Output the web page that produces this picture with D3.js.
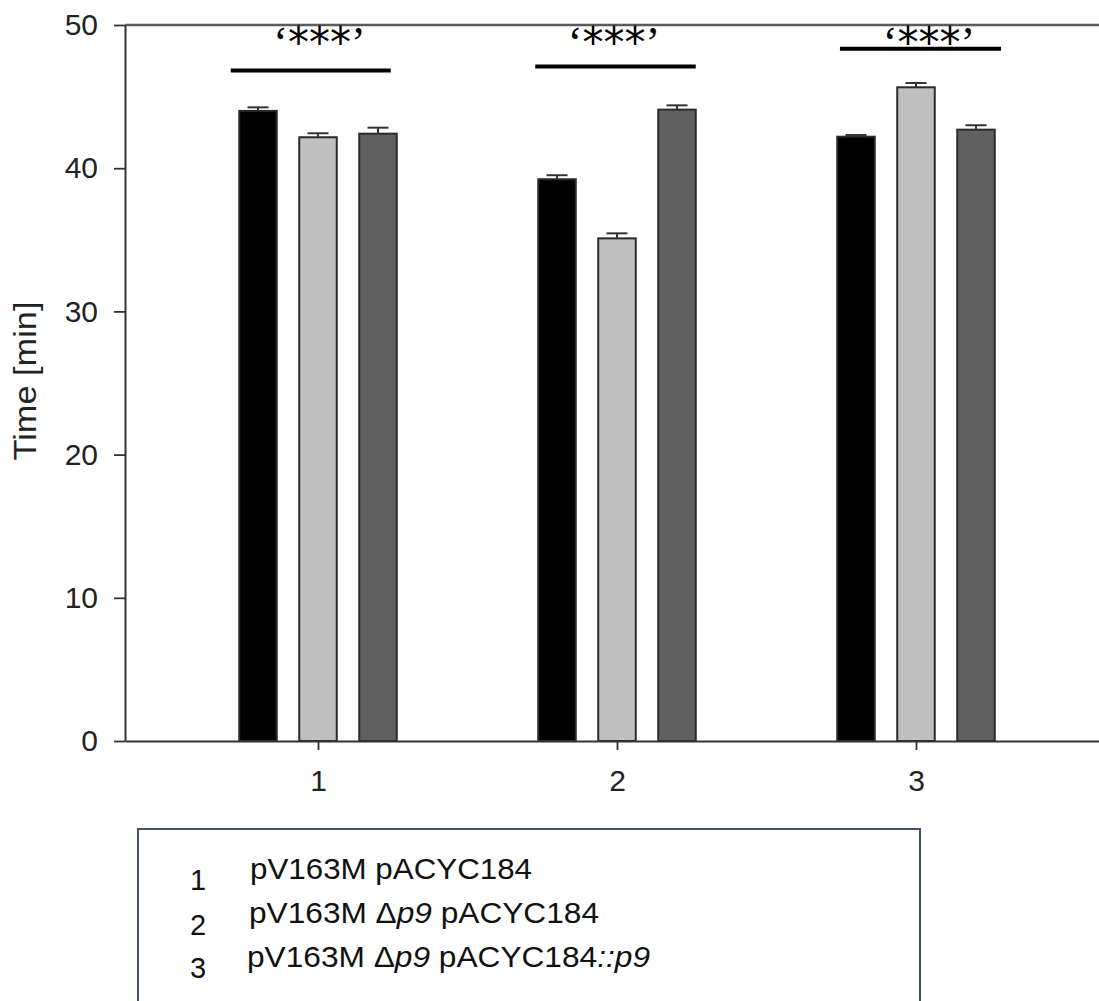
<!DOCTYPE html>
<html>
<head>
<meta charset="utf-8">
<script src="https://cdn.jsdelivr.net/npm/d3@7"></script>
<style>
  body { margin: 0; background: #fff; }
  text { font-family: "Liberation Sans", Arial, sans-serif; }
</style>
</head>
<body>
<svg width="1099" height="1001"></svg>
<script>
// groups on the x axis, three bars in each
const groups = ["1", "2", "3"];
const seriesNames = ["black", "light", "dark"];
const seriesFill = ["#000000", "#c0c0c0", "#606060"];

// mean times [min] per group, one array per bar colour
const blackMeans = [44.0, 39.23, 42.2];
const lightMeans = [42.16, 35.1, 45.65];
const darkMeans = [42.41, 44.09, 42.69];
// upper error (SEM)
const blackErr = [0.25, 0.28, 0.12];
const lightErr = [0.28, 0.35, 0.3];
const darkErr = [0.42, 0.3, 0.31];

const yTicks = [0, 10, 20, 30, 40, 50];
const yTitle = "Time [min]";

// significance bars
const sigParts = ["‘", "***", "’"];
const sigLevels = [46.82, 47.1, 48.34];
const sigTextLevel = 47.8;

// legend
const legendNums = ["1", "2", "3"];
const legendLabels = [
  [["pV163M pACYC184", false]],
  [["pV163M Δ", false], ["p9", true], [" pACYC184", false]],
  [["pV163M Δ", false], ["p9", true], [" pACYC184", false], ["::p9", true]]
];

const means = [blackMeans, lightMeans, darkMeans];
const errs = [blackErr, lightErr, darkErr];
const rows = [];
groups.forEach((g, i) => {
  seriesNames.forEach((s, j) => {
    rows.push({ group: g, series: s, fill: seriesFill[j], mean: means[j][i], err: errs[j][i] });
  });
});

var svg = d3.select("svg");

var x = d3.scalePoint().domain(groups).range([125, 1109]).padding(0.6455);
var xs = d3.scaleBand().domain(seriesNames).range([-78.75, 78.75]).paddingInner(0.375);
var y = d3.scaleLinear().domain([0, 50]).range([741, 25]);

// top frame line
svg.append("line")
  .attr("x1", 125).attr("x2", 1109)
  .attr("y1", y(50)).attr("y2", y(50))
  .attr("stroke", "#5a5a5a").attr("stroke-width", 2.5);

// bars
svg.selectAll(".bar")
  .data(rows)
  .enter().append("rect")
  .attr("class", "bar")
  .attr("x", d => x(d.group) + xs(d.series))
  .attr("width", xs.bandwidth())
  .attr("y", d => y(d.mean))
  .attr("height", d => y(0) - y(d.mean))
  .attr("fill", d => d.fill)
  .attr("stroke", "#2a2a2a")
  .attr("stroke-width", 2);

// error bars (upper only)
var eb = svg.selectAll(".err")
  .data(rows)
  .enter().append("g")
  .attr("class", "err")
  .attr("stroke", "#333")
  .attr("stroke-width", 2);
eb.append("line")
  .attr("x1", d => x(d.group) + xs(d.series) + xs.bandwidth() / 2)
  .attr("x2", d => x(d.group) + xs(d.series) + xs.bandwidth() / 2)
  .attr("y1", d => y(d.mean))
  .attr("y2", d => y(d.mean + d.err));
eb.append("line")
  .attr("x1", d => x(d.group) + xs(d.series) + xs.bandwidth() / 2 - 10.5)
  .attr("x2", d => x(d.group) + xs(d.series) + xs.bandwidth() / 2 + 10.5)
  .attr("y1", d => y(d.mean + d.err))
  .attr("y2", d => y(d.mean + d.err));

// axes
var yAxis = svg.append("g")
  .attr("transform", "translate(125,0)")
  .call(d3.axisLeft(y).tickValues(yTicks).tickSize(11).tickPadding(16).tickSizeOuter(0));
var xAxis = svg.append("g")
  .attr("transform", "translate(0," + y(0) + ")")
  .call(d3.axisBottom(x).tickSize(9).tickPadding(20).tickSizeOuter(0));
[yAxis, xAxis].forEach(a => {
  a.select(".domain").attr("stroke", "#333").attr("stroke-width", 2);
  a.selectAll(".tick line").attr("stroke", "#333").attr("stroke-width", 1.8);
  a.selectAll(".tick text")
    .attr("font-size", 30).attr("fill", "#222")
    .attr("font-family", "Liberation Sans, Arial, sans-serif");
});

svg.append("text")
  .attr("transform", "translate(36,381) rotate(-90)")
  .attr("text-anchor", "middle")
  .attr("font-size", 31)
  .attr("fill", "#222")
  .attr("textLength", 159)
  .attr("lengthAdjust", "spacingAndGlyphs")
  .text(yTitle);

// significance annotations
const sigLeftPad = [-8.5, -3, 2.7];
const sigRightPad = [-6, 0, 6.3];
const sigTextShift = [1.5, -3, 13];
svg.selectAll(".sigline")
  .data(groups)
  .enter().append("line")
  .attr("class", "sigline")
  .attr("x1", (g, i) => x(g) + xs("black") + sigLeftPad[i])
  .attr("x2", (g, i) => x(g) + xs("dark") + xs.bandwidth() + sigRightPad[i])
  .attr("y1", (g, i) => y(sigLevels[i]))
  .attr("y2", (g, i) => y(sigLevels[i]))
  .attr("stroke", "#000")
  .attr("stroke-width", 4);
var st = svg.selectAll(".sigtext")
  .data(groups)
  .enter().append("text")
  .attr("class", "sigtext")
  .attr("x", (g, i) => x(g) + sigTextShift[i])
  .attr("y", y(sigTextLevel))
  .attr("text-anchor", "middle")
  .attr("fill", "#000");
st.selectAll("tspan")
  .data(sigParts)
  .enter().append("tspan")
  .attr("font-family", d => d === "***" ? "DejaVu Sans, sans-serif" : "Liberation Serif, serif")
  .attr("font-size", d => d === "***" ? 42 : 44)
  .text(d => d);

// legend box
svg.append("rect")
  .attr("x", 138).attr("y", 829)
  .attr("width", 782).attr("height", 220)
  .attr("fill", "none")
  .attr("stroke", "#44546a")
  .attr("stroke-width", 2);

const numY = [890, 935, 978];
const labelY = [879, 923, 967];
const labelX = [250, 249, 247];
const labelLen = [282, 350, 403];

svg.selectAll(".lnum")
  .data(legendNums)
  .enter().append("text")
  .attr("class", "lnum")
  .attr("x", 198)
  .attr("y", (d, i) => numY[i])
  .attr("text-anchor", "middle")
  .attr("font-size", 29)
  .attr("fill", "#111")
  .text(d => d);

var lab = svg.selectAll(".llabel")
  .data(legendLabels)
  .enter().append("text")
  .attr("class", "llabel")
  .attr("x", (d, i) => labelX[i])
  .attr("y", (d, i) => labelY[i])
  .attr("font-size", 30)
  .attr("fill", "#111")
  .attr("textLength", (d, i) => labelLen[i])
  .attr("lengthAdjust", "spacingAndGlyphs");
lab.selectAll("tspan")
  .data(d => d)
  .enter().append("tspan")
  .attr("font-style", d => d[1] ? "italic" : "normal")
  .text(d => d[0]);
</script>
</body>
</html>
